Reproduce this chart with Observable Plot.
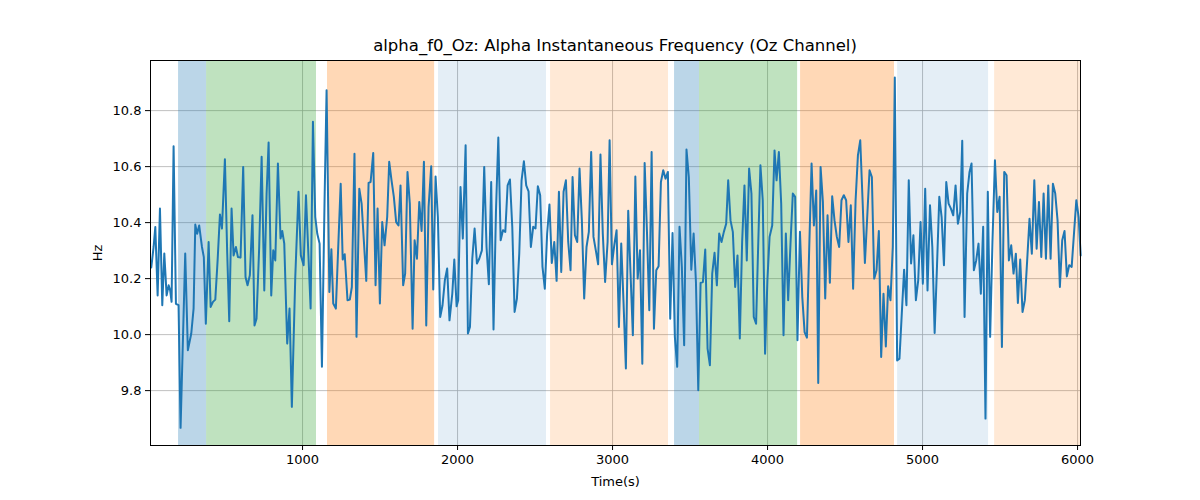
<!DOCTYPE html>
<html><head><meta charset="utf-8">
<script src="https://cdn.jsdelivr.net/npm/d3@7"></script>
<script src="https://cdn.jsdelivr.net/npm/@observablehq/plot@0.6"></script>
<style>
body{margin:0;background:#fff;font-family:"DejaVu Sans",sans-serif;}
#wrap{position:relative;width:1200px;height:500px;}
#title{position:absolute;left:150px;width:930px;top:36px;text-align:center;font-size:16.5px;color:#000;}
</style></head><body>
<div id="wrap"><div id="title">alpha_f0_Oz: Alpha Instantaneous Frequency (Oz Channel)</div><div id="chart"></div></div>
<script>
const times = [24,39,50,65,80,95,108,123,136,146,155,168,183,200,213,243,260,282,297,308,320,333,351,363,376,394,407,422,437,452,467,480,499,514,527,542,555,570,583,600,617,632,645,660,677,690,703,720,736,753,768,781,798,811,824,841,858,869,882,901,916,931,953,974,989,1007,1022,1052,1067,1082,1095,1110,1125,1142,1155,1173,1186,1198,1215,1231,1246,1259,1272,1290,1305,1318,1335,1348,1366,1381,1396,1411,1426,1439,1456,1471,1484,1499,1514,1529,1546,1559,1574,1589,1604,1619,1632,1649,1662,1677,1692,1710,1723,1738,1753,1768,1783,1798,1813,1830,1843,1858,1873,1888,1903,1918,1933,1948,1966,1979,1994,2004,2019,2034,2052,2067,2080,2095,2110,2125,2140,2157,2172,2187,2202,2217,2232,2248,2263,2278,2293,2308,2323,2338,2353,2368,2383,2398,2413,2428,2443,2458,2473,2488,2503,2518,2533,2548,2563,2578,2593,2608,2624,2639,2654,2669,2684,2699,2714,2729,2742,2757,2772,2787,2802,2817,2832,2847,2862,2877,2892,2907,2922,2937,2952,2968,2981,2996,3011,3026,3041,3056,3071,3086,3101,3116,3131,3147,3162,3177,3192,3207,3222,3237,3252,3267,3282,3297,3312,3327,3342,3357,3372,3387,3402,3417,3432,3447,3462,3477,3492,3508,3523,3538,3553,3568,3583,3598,3613,3628,3643,3658,3673,3688,3703,3718,3733,3746,3761,3776,3791,3806,3821,3836,3851,3866,3881,3896,3911,3926,3939,3954,3969,3984,3999,4013,4030,4045,4058,4073,4088,4103,4118,4133,4148,4163,4178,4193,4209,4224,4239,4254,4269,4284,4299,4314,4327,4342,4357,4372,4387,4402,4417,4432,4447,4462,4477,4492,4507,4522,4537,4552,4568,4583,4598,4613,4628,4643,4658,4673,4688,4703,4718,4733,4748,4763,4778,4793,4808,4821,4836,4851,4866,4881,4896,4911,4926,4941,4957,4972,4987,5002,5017,5032,5048,5063,5078,5093,5108,5123,5138,5153,5168,5183,5198,5213,5228,5243,5256,5271,5288,5303,5316,5331,5346,5361,5376,5391,5406,5421,5436,5451,5467,5482,5497,5512,5527,5542,5557,5572,5587,5602,5615,5630,5645,5660,5675,5690,5705,5721,5736,5751,5766,5781,5796,5811,5826,5841,5856,5871,5886,5901,5916,5931,5946,5962,5977,5992,6007,6020];
const hz = [10.24,10.313,10.384,10.14,10.45,10.105,10.29,10.14,10.176,10.158,10.117,10.673,10.11,10.105,9.667,10.29,9.944,10.004,10.093,10.393,10.36,10.39,10.313,10.277,10.039,10.331,10.099,10.117,10.125,10.265,10.429,10.379,10.626,10.29,10.048,10.45,10.283,10.313,10.277,10.275,10.599,10.206,10.176,10.212,10.426,10.033,10.057,10.309,10.635,10.158,10.504,10.686,10.14,10.301,10.265,10.611,10.343,10.37,10.325,9.968,10.093,9.742,10.206,10.51,10.283,10.248,10.498,10.093,10.76,10.42,10.36,10.325,9.885,10.48,10.873,10.152,10.305,10.111,10.093,10.325,10.539,10.268,10.287,10.123,10.125,10.17,10.646,9.992,10.521,10.468,10.331,10.192,10.542,10.545,10.649,10.176,10.45,10.111,10.402,10.319,10.42,10.617,10.551,10.492,10.402,10.39,10.533,10.176,10.218,10.581,10.468,10.021,10.337,10.271,10.474,10.37,10.617,10.033,10.456,10.601,10.161,10.565,10.42,10.063,10.105,10.194,10.236,10.051,10.146,10.268,10.101,10.123,10.527,10.343,10.676,10.004,10.027,10.271,10.379,10.254,10.271,10.301,10.599,10.313,10.18,10.545,10.018,10.444,10.704,10.337,10.373,10.367,10.533,10.554,10.385,10.081,10.129,10.289,10.551,10.619,10.533,10.512,10.313,10.385,10.379,10.53,10.498,10.242,10.164,10.361,10.465,10.256,10.331,10.192,10.51,10.224,10.51,10.551,10.331,10.23,10.563,10.355,10.331,10.593,10.408,10.129,10.313,10.367,10.652,10.349,10.301,10.251,10.643,10.361,10.188,10.331,10.694,10.251,10.319,10.373,10.027,10.325,10.111,9.879,10.442,10.218,9.998,10.565,10.2,10.301,9.896,10.613,10.367,10.087,10.652,10.021,10.23,10.244,10.545,10.587,10.557,10.581,10.057,10.363,9.992,9.885,10.385,10.242,9.962,10.661,10.563,10.232,10.361,10.188,9.801,10.185,10.188,10.304,9.95,9.891,10.218,10.292,10.176,10.361,10.331,10.367,10.396,10.551,10.408,10.367,10.17,10.283,9.986,10.331,10.533,10.265,10.593,10.504,10.063,10.039,10.307,10.605,10.48,9.932,10.194,10.349,10.39,10.658,10.551,10.652,10.468,9.998,10.361,10.123,10.325,10.504,10.492,9.98,10.367,10.135,10.009,9.989,10.313,10.611,10.39,10.515,9.827,10.599,10.474,10.129,10.426,10.185,10.494,10.408,10.349,10.313,10.48,10.498,10.48,10.331,10.462,10.164,10.48,10.64,10.694,10.48,10.256,10.42,10.587,10.563,10.2,10.23,10.37,9.92,10.146,9.958,10.173,10.123,10.313,10.918,9.908,9.914,10.075,10.232,10.105,10.551,10.254,10.355,10.123,10.194,10.402,10.182,10.521,10.158,10.462,10.313,10.006,10.242,10.492,10.42,10.248,10.545,10.468,10.45,10.426,10.533,10.396,10.438,10.692,10.063,10.504,10.581,10.611,10.23,10.265,10.325,10.146,10.385,9.7,10.51,9.992,10.331,10.623,10.438,10.492,9.956,10.581,10.569,10.265,10.319,10.218,10.289,10.113,10.268,10.081,10.123,10.265,10.414,10.289,10.551,10.307,10.474,10.277,10.504,10.271,10.533,10.271,10.539,10.504,10.408,10.17,10.337,10.37,10.208,10.248,10.242,10.361,10.48,10.42,10.283];
const bandStart = [200,381,1161,1877,2600,3400,3561,4213,4839,5465];
const bandEnd   = [381,1090,1852,2574,3361,3561,4194,4819,5426,6020];
const bandColor = ["#1f77b4","#2ca02c","#ff7f0e","#1f77b4","#ff7f0e","#1f77b4","#2ca02c","#ff7f0e","#1f77b4","#ff7f0e"];
const bandOpacity = [0.3,0.3,0.3,0.12,0.17,0.3,0.3,0.3,0.12,0.17];
const xTicks = [1000,2000,3000,4000,5000,6000];
const yTicks = [9.8,10.0,10.2,10.4,10.6,10.8];

const series = times.map((t,i)=>({t, v:hz[i]}));
const bands = bandStart.map((s,i)=>({x1:s,x2:bandEnd[i],c:bandColor[i],o:bandOpacity[i]}));

const chart = Plot.plot({
  width:1200, height:500,
  marginLeft:150, marginRight:120, marginTop:60, marginBottom:55,
  style:{fontFamily:"DejaVu Sans, sans-serif", fontSize:"13px", color:"#000", background:"transparent"},
  x:{domain:[19,6019], ticks:xTicks, tickFormat:d=>String(d), label:"Time(s)", labelAnchor:"center", labelArrow:"none", labelOffset:40, tickSize:5},
  y:{domain:[9.604,10.979], ticks:yTicks, tickFormat:d=>d.toFixed(1), label:"Hz", labelAnchor:"center", labelArrow:"none", labelOffset:58, tickSize:5},
  marks:[
    Plot.gridX(xTicks,{stroke:"#b0b0b0",strokeOpacity:1,strokeWidth:0.8}),
    Plot.gridY(yTicks,{stroke:"#b0b0b0",strokeOpacity:1,strokeWidth:0.8}),
    Plot.rect(bands,{x1:"x1",x2:"x2",fill:"c",fillOpacity:"o"}),
    Plot.line(series,{x:"t",y:"v",stroke:"#1f77b4",strokeWidth:2}),
    Plot.frame({stroke:"#000",strokeWidth:1})
  ]
});
document.getElementById("chart").appendChild(chart);
</script></body></html>
